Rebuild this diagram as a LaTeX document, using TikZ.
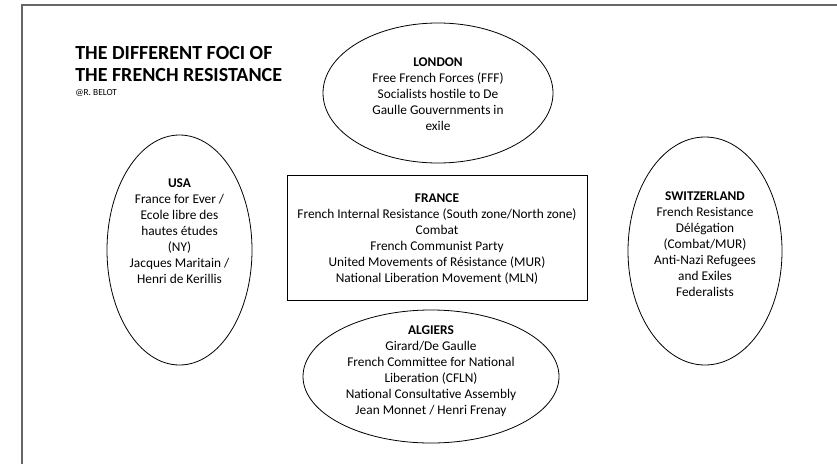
\documentclass[tikz,border=0pt]{standalone}
\usepackage{fontspec}
\setmainfont{Carlito}
\usetikzlibrary{shapes.geometric}

\begin{document}
\begin{tikzpicture}[x=0.75pt,y=-0.75pt,
	focus/.style={draw,ellipse,line width=0.6pt,inner sep=0pt},
	info/.style={align=center,inner sep=0pt,font=\fontsize{10}{12}\selectfont}]
	\useasboundingbox (0,0) rectangle (837,464);
	\draw[black!60,line width=1.1pt] (22,464) -- (22,5) -- (837,5);
	
	\node[anchor=west,align=left,inner sep=0pt,font=\bfseries\fontsize{15}{16.5}\selectfont] (title) at (75,64) {THE DIFFERENT FOCI OF\\THE FRENCH RESISTANCE};
	\node[anchor=west,inner sep=0pt,font=\fontsize{7}{8}\selectfont] (credit) at (75,93) {@R. BELOT};
	
	\node[focus,minimum width=172.5pt,minimum height=105pt] (london) at (438,93) {};
	\node[info] (londontext) at (438,94) {\textbf{LONDON}\\Free French Forces (FFF)\\Socialists hostile to De\\Gaulle Gouvernments in\\exile};
	
	\node[focus,minimum width=108.75pt,minimum height=172.5pt] (usa) at (179.5,250) {};
	\node[info] (usatext) at (179.5,231) {\textbf{USA}\\France for Ever /\\Ecole libre des\\hautes études\\(NY)\\Jacques Maritain /\\Henri de Kerillis};
	
	\node[focus,minimum width=115.5pt,minimum height=171pt] (switz) at (705,251) {};
	\node[info] (switztext) at (705,244) {\textbf{SWITZERLAND}\\French Resistance\\Délégation\\(Combat/MUR)\\Anti-Nazi Refugees\\and Exiles\\Federalists};
	
	\node[draw,line width=0.6pt,minimum width=225pt,minimum height=93.75pt] (france) at (437,237.5) {};
	\node[info] (francetext) at (437,239) {\textbf{FRANCE}\\French Internal Resistance (South zone/North zone)\\Combat\\French Communist Party\\United Movements of Résistance (MUR)\\National Liberation Movement (MLN)};
	
	\node[focus,minimum width=192pt,minimum height=99.75pt] (algiers) at (431,376.5) {};
	\node[info] (algierstext) at (431,371) {\textbf{ALGIERS}\\Girard/De Gaulle\\French Committee for National\\Liberation (CFLN)\\National Consultative Assembly\\Jean Monnet / Henri Frenay};
\end{tikzpicture}
\end{document}
